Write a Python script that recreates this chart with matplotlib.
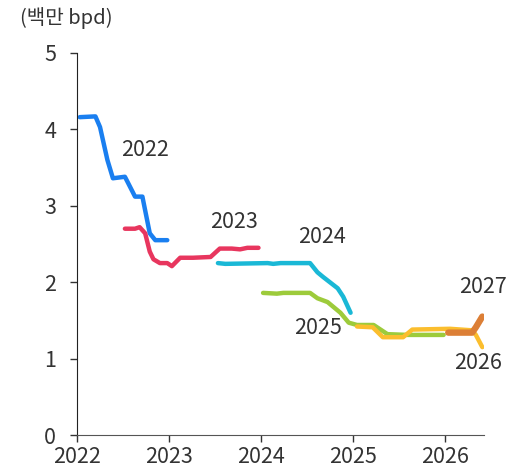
import matplotlib
matplotlib.use('Agg')
from matplotlib import pyplot as plt

plt.rcParams['font.family'] = ['Noto Sans CJK KR', 'DejaVu Sans']
plt.rcParams['font.weight'] = 'light'

# forecast vintages (decimal year, million bpd)
x_2022 = [2022.03, 2022.20, 2022.25, 2022.33, 2022.39, 2022.52, 2022.55, 2022.63, 2022.71, 2022.74, 2022.79, 2022.85, 2022.98]
y_2022 = [4.16, 4.17, 4.03, 3.60, 3.36, 3.38, 3.31, 3.12, 3.12, 2.94, 2.64, 2.55, 2.55]

x_2023 = [2022.52, 2022.63, 2022.68, 2022.74, 2022.79, 2022.83, 2022.90, 2022.98, 2023.03, 2023.12, 2023.26, 2023.45, 2023.55, 2023.68, 2023.77, 2023.85, 2023.97]
y_2023 = [2.70, 2.70, 2.72, 2.64, 2.40, 2.30, 2.25, 2.25, 2.21, 2.32, 2.32, 2.33, 2.44, 2.44, 2.43, 2.45, 2.45]

x_2024 = [2023.53, 2023.61, 2024.07, 2024.13, 2024.21, 2024.53, 2024.61, 2024.67, 2024.83, 2024.89, 2024.97]
y_2024 = [2.25, 2.24, 2.25, 2.24, 2.25, 2.25, 2.13, 2.07, 1.92, 1.81, 1.60]

x_2025 = [2024.02, 2024.17, 2024.24, 2024.53, 2024.61, 2024.72, 2024.86, 2024.95, 2025.04, 2025.22, 2025.37, 2025.59, 2025.98]
y_2025 = [1.86, 1.85, 1.86, 1.86, 1.79, 1.74, 1.60, 1.47, 1.44, 1.44, 1.32, 1.31, 1.31]

x_2026 = [2025.04, 2025.21, 2025.32, 2025.54, 2025.64, 2026.05, 2026.29, 2026.33, 2026.40]
y_2026 = [1.42, 1.41, 1.28, 1.28, 1.38, 1.39, 1.37, 1.31, 1.15]

x_2027 = [2026.03, 2026.29, 2026.33, 2026.40]
y_2027 = [1.34, 1.34, 1.41, 1.55]

series = [
    ('2022', x_2022, y_2022, '#1a7ff0', 3.2, (2022.74, 3.73)),
    ('2023', x_2023, y_2023, '#e8365e', 3.2, (2023.70, 2.79)),
    ('2024', x_2024, y_2024, '#1ab8d6', 3.2, (2024.66, 2.59)),
    ('2025', x_2025, y_2025, '#9dcb3b', 3.2, (2024.62, 1.40)),
    ('2026', x_2026, y_2026, '#fbbe2e', 3.2, (2026.35, 0.94)),
    ('2027', x_2027, y_2027, '#dc7f36', 4.6, (2026.41, 1.94)),
]

fig = plt.figure(figsize=(5.22, 4.68), dpi=100)
ax = fig.add_axes([0.1475, 0.0705, 0.78, 0.8163])

for name, xs, ys, color, lw, (tx, ty) in series:
    ax.plot(xs, ys, color=color, lw=lw, solid_capstyle='round', solid_joinstyle='round')
    ax.text(tx, ty, name, fontsize=15.5, color='#333333', ha='center', va='center')

ax.set_xlim(2022, 2026.42)
ax.set_ylim(0, 5)
ax.set_xticks([2022, 2023, 2024, 2025, 2026])
ax.set_yticks([0, 1, 2, 3, 4, 5])
ax.tick_params(labelsize=15.5, colors='#333333', length=5, width=1)
ax.tick_params(axis='x', pad=3)
ax.tick_params(axis='y', pad=10)
ax.spines['top'].set_visible(False)
ax.spines['right'].set_visible(False)
ax.spines['bottom'].set_color('#555555')
ax.spines['left'].set_color('#222222')

fig.text(0.127, 0.962, '(백만 bpd)', fontsize=14.5, color='#333333', ha='center', va='center')

fig.savefig('out.png', dpi=100)
